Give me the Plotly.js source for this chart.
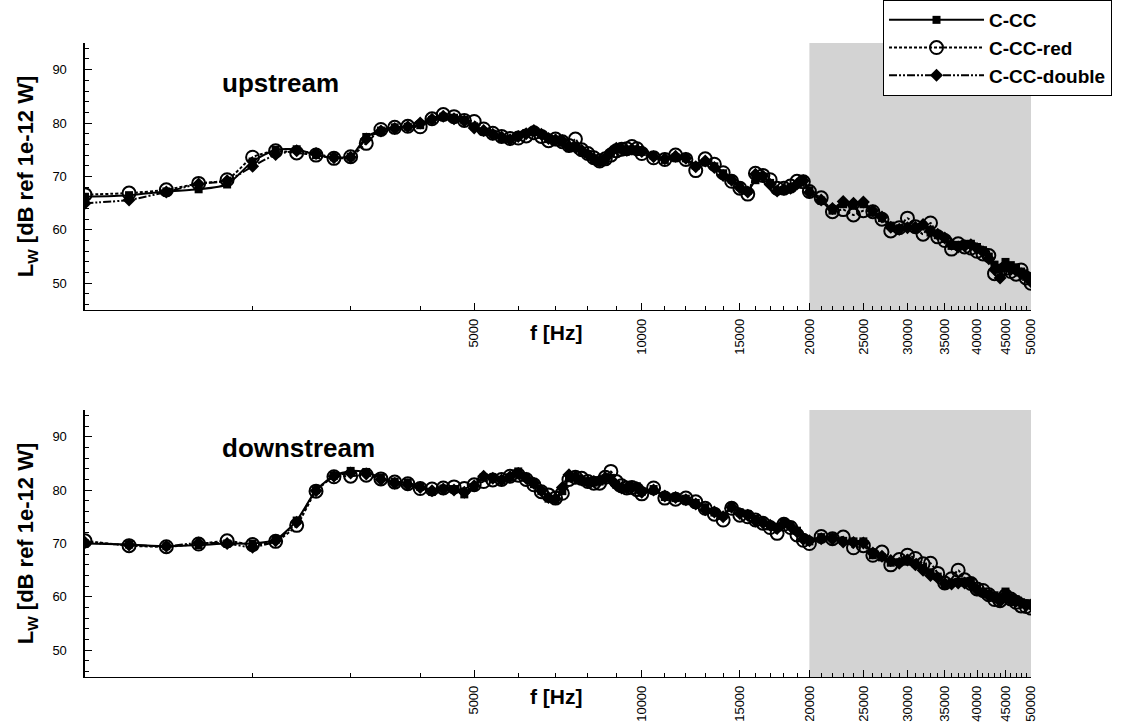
<!DOCTYPE html>
<html><head><meta charset="utf-8">
<script src="https://cdn.plot.ly/plotly-3.0.1.min.js"></script>
<style>html,body{margin:0;padding:0;background:#fff;} #chart{width:1121px;height:727px;}</style>
</head><body><div id="chart"></div>
<script>
// frequencies [Hz]
const freqHz = [1000,1200,1400,1600,1800,2000,2200,2400,2600,2800,3000,3200,3400,3600,3800,4000,4200,4400,4600,4800,
  5000,5200,5400,5600,5800,6000,6200,6400,6600,6800,7000,7200,7400,7600,7800,8000,8200,8400,8600,8800,
  9000,9200,9400,9600,9800,10000,10500,11000,11500,12000,12500,13000,13500,14000,14500,15000,15500,16000,16500,17000,
  17500,18000,18500,19000,19500,20000,21000,22000,23000,24000,25000,26000,27000,28000,29000,30000,31000,32000,33000,34000,
  35000,36000,37000,38000,39000,40000,41000,42000,43000,44000,45000,46000,47000,48000,49000,50000];

// upstream
const upCC = [66.2,66.5,67.2,67.6,68.5,72.8,75.0,75.1,74.0,73.6,73.7,77.4,78.6,79.2,79.3,79.6,80.6,81.2,81.0,80.6,
  79.4,78.4,78.0,77.2,77.0,77.4,78.1,78.3,77.8,77.0,76.8,76.3,75.3,75.7,74.7,74.2,73.2,72.6,73.0,74.3,
  75.1,75.0,74.8,75.0,74.9,74.6,73.9,73.1,73.6,73.4,72.0,72.6,71.9,70.6,69.4,68.1,67.3,69.3,70.0,68.8,
  67.4,67.5,67.9,68.5,69.3,67.4,65.5,63.6,64.8,64.6,64.8,63.2,62.2,60.8,60.3,60.6,60.2,60.8,59.5,59.0,
  58.3,57.0,57.2,57.3,57.4,56.8,56.2,55.0,53.5,52.8,54.0,53.4,53.0,52.2,51.2,50.6];
const upRed = [66.6,66.9,67.5,68.7,69.4,73.6,74.8,74.4,74.0,73.4,73.7,76.2,78.8,79.2,79.4,79.3,80.8,81.6,81.2,80.5,
  80.3,78.9,78.1,77.5,77.1,77.2,77.6,78.2,77.5,76.7,77.0,76.5,75.8,77.0,75.0,74.3,73.5,72.9,73.3,74.0,
  74.8,75.1,75.2,75.6,75.2,74.3,73.5,73.2,74.0,73.2,71.1,73.3,72.3,70.7,69.1,67.8,66.7,70.6,70.2,69.4,
  67.8,67.8,68.2,69.1,69.0,67.2,66.0,63.4,63.8,62.8,63.6,63.4,62.0,59.8,60.4,62.2,60.6,59.2,61.3,58.7,
  58.0,56.4,57.4,56.8,56.6,56.0,55.5,55.2,51.8,52.3,52.8,52.2,51.7,52.5,51.0,50.0];
const upDouble = [65.0,65.6,67.1,68.6,69.2,71.9,74.1,74.8,74.3,73.5,73.6,77.0,78.5,79.0,79.3,80.0,80.7,81.3,80.8,80.4,
  79.1,78.6,77.9,77.4,76.9,77.5,78.0,78.6,77.9,77.1,76.9,76.7,75.6,75.4,74.9,74.1,73.3,72.8,73.4,74.6,
  75.3,75.2,74.9,75.1,74.9,74.7,73.7,73.3,73.8,73.4,71.8,72.9,71.7,70.2,69.3,67.9,67.1,70.4,70.1,68.5,
  67.3,67.6,67.8,68.6,69.2,67.0,65.6,64.0,65.3,65.0,65.2,63.6,62.4,60.5,60.1,60.4,60.5,61.0,59.8,59.2,
  58.5,57.3,56.8,57.0,57.2,56.5,55.9,54.6,52.6,51.0,53.3,52.6,52.4,51.8,51.5,50.3];

// downstream
const downCC = [70.0,69.8,69.5,69.7,70.0,70.0,70.7,74.3,80.0,82.7,83.6,83.4,82.3,81.6,81.4,80.6,79.7,80.3,80.2,79.2,
  80.6,82.4,82.1,81.8,82.4,83.5,82.3,81.1,79.8,78.4,78.2,79.8,82.2,82.3,81.8,81.4,81.4,81.6,82.2,82.3,
  81.0,80.5,80.3,80.6,80.7,79.7,80.2,78.7,78.5,78.4,77.6,76.8,75.8,75.2,77.0,75.8,75.5,74.6,74.0,73.2,
  73.0,74.0,73.4,72.4,71.0,70.4,71.2,71.2,70.5,70.4,70.4,67.8,67.4,66.4,66.5,66.6,66.3,65.4,64.6,63.8,
  62.2,62.7,62.8,62.9,62.8,61.6,61.0,60.6,60.3,59.6,61.0,59.8,59.5,59.0,58.6,58.8];
const downRed = [70.5,69.6,69.4,69.9,70.5,69.8,70.4,73.4,79.8,82.5,82.6,82.8,82.1,81.5,81.2,80.3,80.2,80.4,80.6,80.3,
  81.0,81.6,81.9,82.0,82.6,82.8,82.0,81.0,79.7,79.1,78.5,79.4,82.0,82.4,82.2,81.6,81.3,81.3,82.4,83.5,
  81.6,80.8,80.4,80.5,80.1,79.3,80.4,78.5,78.3,78.5,77.8,76.6,75.5,74.4,76.6,75.3,75.0,74.4,73.8,73.0,
  71.9,73.6,73.0,71.6,70.6,70.0,71.3,70.9,71.2,69.2,69.6,67.8,68.4,66.0,67.0,67.8,67.2,66.2,66.3,64.4,
  62.6,63.4,65.0,63.2,62.5,61.5,61.2,60.4,59.5,59.3,60.2,59.6,59.0,58.3,58.2,57.9];
const downDouble = [70.2,69.7,69.5,70.1,70.0,69.3,70.5,74.0,79.9,82.6,83.2,83.0,82.0,81.3,81.0,80.5,79.9,80.2,80.0,79.6,
  80.8,82.6,82.2,81.9,82.5,83.1,82.2,81.3,79.9,78.6,78.4,80.5,82.9,82.5,81.9,81.5,81.6,81.8,82.3,82.0,
  80.9,80.4,80.4,80.5,80.5,79.6,80.0,78.9,78.6,78.2,77.4,76.3,75.9,75.0,76.8,75.6,75.3,74.2,73.9,73.4,
  72.8,73.8,73.2,72.2,70.8,70.5,70.9,70.8,70.3,70.2,70.1,68.2,67.6,66.8,66.3,66.9,66.0,65.0,64.0,63.6,
  62.5,62.4,62.6,62.6,62.3,61.3,60.8,60.2,59.8,59.2,60.4,59.3,59.2,58.9,58.4,58.5];

const seriesNames = ['C-CC', 'C-CC-red', 'C-CC-double'];
const panelLabels = ['upstream', 'downstream'];
const xTickVals = [5000,10000,15000,20000,25000,30000,35000,40000,45000,50000];
const xTickText = ['5000','10000','15000','20000','25000','30000','35000','40000','45000','50000'];
const xMinorVals = [2000,3000,4000,6000,7000,8000,9000,11000,12000,13000,14000,16000,17000,18000,19000,
  21000,22000,23000,24000,26000,27000,28000,29000,31000,32000,33000,34000,36000,37000,38000,39000,
  41000,42000,43000,44000,46000,47000,48000,49000];
const yTickVals = [50,60,70,80,90];
const shadeBand = [20000, 50000];
const xTitle = 'f [Hz]';
const yTitle = 'L<sub>W</sub> [dB ref 1e-12 W]';

const FONT = 'Liberation Sans, Arial, Helvetica, sans-serif';
const styles = [
  {dash: 'solid', symbol: 'square', size: 8, lw: 2},
  {dash: '3px,2px', symbol: 'circle-open', size: 13, lw: 2},
  {dash: '8px,2px,2px,2px,2px,2px', symbol: 'diamond', size: 10, lw: 2}
];

const panels = [[upCC, upRed, upDouble], [downCC, downRed, downDouble]];
const traces = [];
panels.forEach((set, p) => {
  set.forEach((vals, i) => {
    const s = styles[i];
    traces.push({
      type: 'scatter', mode: 'lines+markers',
      x: freqHz, y: vals, name: seriesNames[i],
      xaxis: p === 0 ? 'x' : 'x2', yaxis: p === 0 ? 'y' : 'y2',
      showlegend: p === 0,
      line: {color: 'black', width: s.lw, dash: s.dash, shape: 'spline', smoothing: 0.6},
      marker: {symbol: s.symbol, size: s.size, color: 'black',
               line: {color: 'black', width: s.symbol === 'circle-open' ? 2 : 0}}
    });
  });
});

function xAxis(anchor) {
  return {
    type: 'log', range: [3, Math.log10(50000)], domain: [0.0758, 0.9197], anchor: anchor,
    tickmode: 'array', tickvals: xTickVals, ticktext: xTickText, tickangle: -90,
    ticks: 'inside', ticklen: 7, tickwidth: 1, tickcolor: 'black', ticklabelstandoff: 2,
    minor: {tickmode: 'array', tickvals: xMinorVals, ticks: 'inside', ticklen: 4, tickwidth: 1, tickcolor: 'black', showgrid: false},
    showline: true, linecolor: 'black', linewidth: 1.5, showgrid: false, zeroline: false,
    tickfont: {family: FONT, size: 13, color: 'black'}, automargin: false
  };
}
function yAxis(anchor, domain) {
  return {
    range: [45, 95], domain: domain, anchor: anchor,
    tickmode: 'array', tickvals: yTickVals,
    ticks: 'inside', ticklen: 7, tickwidth: 1, tickcolor: 'black', ticklabelstandoff: 14,
    minor: {dtick: 2, ticks: 'inside', ticklen: 4, tickwidth: 1, tickcolor: 'black', showgrid: false},
    showline: true, linecolor: 'black', linewidth: 1.5, showgrid: false, zeroline: false,
    tickfont: {family: FONT, size: 13, color: 'black'},
    title: {text: yTitle, font: {family: FONT, size: 22, color: 'black', weight: 'bold'}, standoff: 12},
    automargin: false
  };
}

const layout = {
  width: 1121, height: 727,
  margin: {l: 0, r: 0, t: 0, b: 0},
  paper_bgcolor: 'white', plot_bgcolor: 'rgba(0,0,0,0)',
  font: {family: FONT, color: 'black'},
  xaxis: xAxis('y'), yaxis: yAxis('x', [0.5736, 0.9409]),
  xaxis2: xAxis('y2'), yaxis2: yAxis('x2', [0.0688, 0.4360]),
  shapes: [
    {type: 'rect', xref: 'x', yref: 'y domain', x0: shadeBand[0], x1: shadeBand[1], y0: 0, y1: 1,
     fillcolor: '#d3d3d3', line: {width: 0}, layer: 'below'},
    {type: 'rect', xref: 'x2', yref: 'y2 domain', x0: shadeBand[0], x1: shadeBand[1], y0: 0, y1: 1,
     fillcolor: '#d3d3d3', line: {width: 0}, layer: 'below'}
  ],
  annotations: [
    {xref: 'paper', yref: 'paper', x: 0.1963, y: 0.8858, xanchor: 'left', yanchor: 'middle', showarrow: false,
     text: panelLabels[0], font: {family: FONT, size: 26, color: 'black', weight: 'bold'}},
    {xref: 'paper', yref: 'paper', x: 0.1963, y: 0.3838, xanchor: 'left', yanchor: 'middle', showarrow: false,
     text: panelLabels[1], font: {family: FONT, size: 26, color: 'black', weight: 'bold'}},
    {xref: 'paper', yref: 'paper', x: 0.4964, y: 0.542, xanchor: 'center', yanchor: 'middle', showarrow: false,
     text: xTitle, font: {family: FONT, size: 21, color: 'black', weight: 'bold'}},
    {xref: 'paper', yref: 'paper', x: 0.4964, y: 0.0413, xanchor: 'center', yanchor: 'middle', showarrow: false,
     text: xTitle, font: {family: FONT, size: 21, color: 'black', weight: 'bold'}}
  ],
  legend: {x: 0.7877, y: 1, xanchor: 'left', yanchor: 'top', bgcolor: 'white', bordercolor: 'black', borderwidth: 1,
           font: {family: FONT, size: 19, color: 'black', weight: 'bold'}, itemwidth: 95, tracegroupgap: 0}
};

Plotly.newPlot('chart', traces, layout, {displayModeBar: false, staticPlot: true});
</script>
</body></html>
